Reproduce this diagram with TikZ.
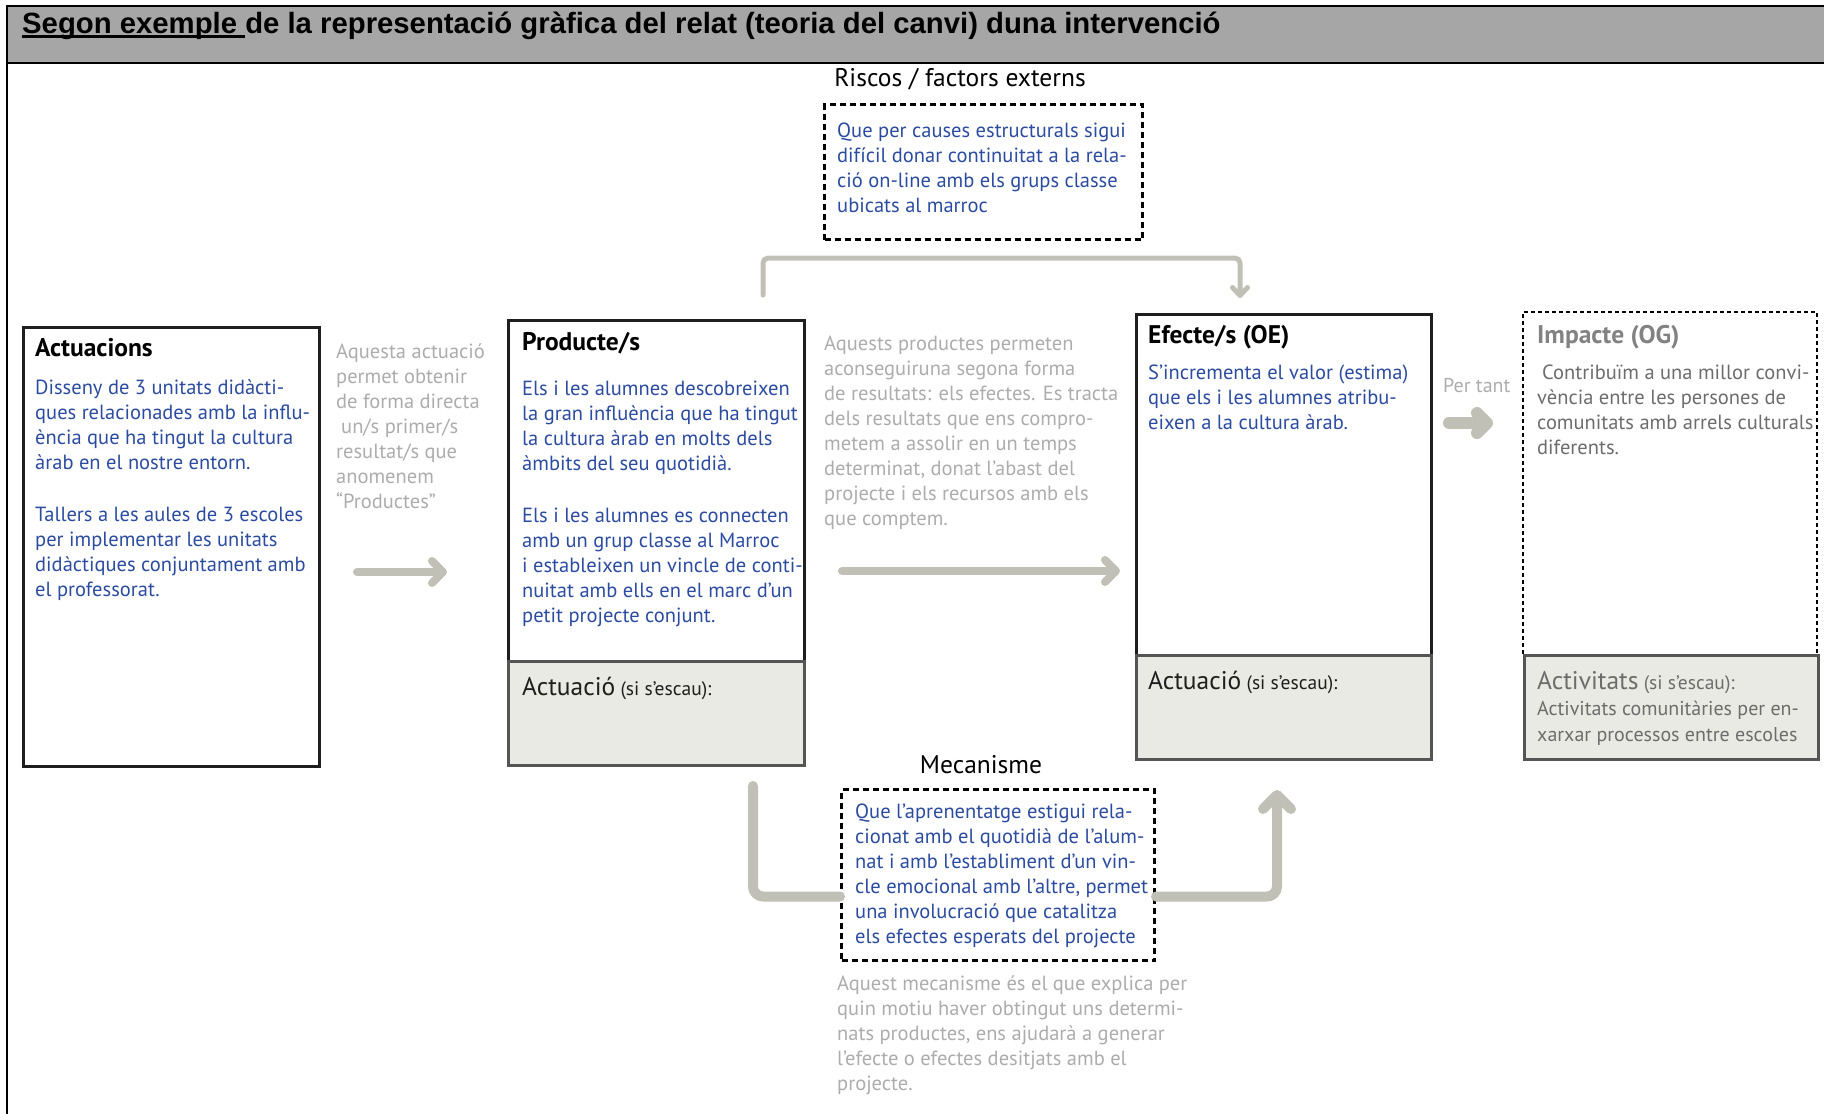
\documentclass[tikz,border=0pt]{standalone}
\usepackage{fontspec}
\setmainfont{PT Sans}
\newfontfamily\arialfont{Liberation Sans}
\usetikzlibrary{arrows.meta,positioning}

\definecolor{hdrgray}{HTML}{A6A6A6}
\definecolor{txtblue}{RGB}{43,75,160}
\definecolor{notegray}{RGB}{172,172,172}
\definecolor{impgray}{RGB}{108,108,108}
\definecolor{linkgray}{RGB}{192,192,182}
\definecolor{actfill}{RGB}{234,234,228}
\definecolor{boxline}{RGB}{30,30,30}
\definecolor{actline}{RGB}{85,85,85}

\newcommand\hdrline[1]{\setbox0\hbox{#1}\rlap{\rule[-4.5pt]{\wd0}{2.6pt}}\box0}
\newcommand\escau{{\fontsize{19.5}{24}\selectfont\ (si s’escau):}}

\tikzset{
  hdrtext/.style={anchor=base west, inner sep=0pt, font={\arialfont\fontsize{29.3}{34}\selectfont\bfseries}},
  bodytext/.style={anchor=north west, inner sep=0pt, align=left, font={\fontsize{20.5}{25}\selectfont}},
  bluetext/.style={bodytext, text=txtblue},
  notetext/.style={bodytext, text=notegray},
  titletext/.style={anchor=base west, inner sep=0pt, font={\fontsize{25.5}{30}\selectfont\bfseries}},
  headtext/.style={anchor=base, inner sep=0pt, font={\fontsize{25.5}{30}\selectfont}},
  acttext/.style={anchor=base west, inner sep=0pt, text=boxline, font={\fontsize{25.5}{30}\selectfont}},
  mainbox/.style={draw=boxline, line width=2.5pt, anchor=north west, inner sep=0pt},
  actbox/.style={draw=actline, fill=actfill, line width=2.5pt, anchor=north west, inner sep=0pt},
  dashbox/.style={draw=black, line width=3pt, dash pattern=on 6pt off 4pt, anchor=north west, inner sep=0pt},
  link/.style={draw=linkgray, line cap=round, line join=round},
  linkthin/.style={link, line width=5pt, rounded corners=5pt, -{Straight Barb[round,length=8pt,width=15pt]}},
  linkthick/.style={link, line width=10pt, rounded corners=10pt},
  linkarrow/.style={link, line width=8pt, -{Straight Barb[round,length=11pt,width=22pt]}}
}

\begin{document}
\begin{tikzpicture}[x=1pt, y=-1pt]
\useasboundingbox (0,0) rectangle (1824,1114);

% header band
\fill[hdrgray] (7,6) rectangle (1824,63);
\draw[line width=2.5pt] (1824,6) -- (7,6) -- (7,1114);
\draw[line width=2.5pt] (7,63) -- (1824,63);
\node[hdrtext] (hdr) at (22,33) {\hdrline{Segon exemple }de la representació gràfica del relat (teoria del canvi) duna intervenció};

% riscos
\node[headtext] (risktitle) at (960,86) {Riscos / factors externs};
\node[dashbox, minimum width=318pt, minimum height=135pt] (riskbox) at (823,103) {};
\node[bluetext] (risktext) at (837,123) {Que per causes estructurals sigui\\difícil donar continuitat a la rela-\\ció on-line amb els grups classe\\ubicats al marroc};

% actuacions
\node[mainbox, minimum width=296pt, minimum height=439pt] (actbox) at (22,326) {};
\node[titletext] (acttitle) at (35,356) {Actuacions};
\node[bluetext] (acttext) at (35,380) {Disseny de 3 unitats didàcti-\\ques relacionades amb la influ-\\ència que ha tingut la cultura\\àrab en el nostre entorn.\\[27pt]Tallers a les aules de 3 escoles\\per implementar les unitats\\didàctiques conjuntament amb\\el professorat.};
\node[notetext] (actnote) at (336,344) {Aquesta actuació\\permet obtenir\\de forma directa\\\hspace{5pt}un/s primer/s\\resultat/s que\\anomenem\\“Productes”};
\coordinate (arrAs) at (357,572);
\coordinate (arrAe) at (447,572);
\draw[linkarrow] (arrAs) -- (arrAe);

% productes
\node[mainbox, minimum width=296pt, minimum height=445pt] (prodbox) at (507,319) {};
\node[actbox, minimum width=296pt, minimum height=104pt] (prodact) at (507,660) {};
\node[titletext] (prodtitle) at (522,350) {Producte/s};
\node[bluetext] (prodtext) at (522,381) {Els i les alumnes descobreixen\\la gran influència que ha tingut\\la cultura àrab en molts dels\\àmbits del seu quotidià.\\[27pt]Els i les alumnes es connecten\\amb un grup classe al Marroc\\i estableixen un vincle de conti-\\nuitat amb ells en el marc d’un\\petit projecte conjunt.};
\node[acttext] (prodactlbl) at (522,695) {Actuació\escau};
\node[notetext] (prodnote) at (824,336) {Aquests productes permeten\\aconseguiruna segona forma\\de resultats: els efectes. Es tracta\\dels resultats que ens compro-\\metem a assolir en un temps\\determinat, donat l’abast del\\projecte i els recursos amb els\\que comptem.};
\coordinate (arrBs) at (842,571);
\coordinate (arrBe) at (1120,571);
\draw[linkarrow] (arrBs) -- (arrBe);

% riscos -> efectes
\coordinate (brkstart) at (763,295);
\coordinate (brktop) at (1000,258);
\coordinate (brkend) at (1240,298);
\draw[linkthin] (brkstart) |- (brktop) -| (brkend);

% efectes
\node[mainbox, minimum width=295pt, minimum height=445pt] (efbox) at (1135,313) {};
\node[actbox, minimum width=295pt, minimum height=104pt] (efact) at (1135,654) {};
\node[titletext] (eftitle) at (1148,343) {Efecte/s (OE)};
\node[bluetext] (eftext) at (1148,365) {S’incrementa el valor (estima)\\que els i les alumnes atribu-\\eixen a la cultura àrab.};
\node[acttext] (efactlbl) at (1148,689) {Actuació\escau};

% per tant
\node[notetext, anchor=base west, font={\fontsize{20}{24}\selectfont}] (pertant) at (1443,392) {Per tant};
\coordinate (arrCs) at (1449,423);
\coordinate (arrCe) at (1493,423);
\draw[link, line width=12pt, -{Straight Barb[round,length=10pt,width=20pt]}] (arrCs) -- (arrCe);

% impacte
\draw[line width=2.5pt, dash pattern=on 4pt off 3pt] (1523,654) -- (1523,312) -- (1817,312) -- (1817,654);
\node[actbox, minimum width=294pt, minimum height=104pt] (impact) at (1523,654) {};
\node[titletext, text=impgray!85] (imptitle) at (1537,343) {Impacte (OG)};
\node[bodytext, text=impgray] (imptext) at (1537,365) {\hspace{5pt}Contribuïm a una millor convi-\\vència entre les persones de\\comunitats amb arrels culturals\\diferents.};
\node[acttext, text=impgray] (impactlbl) at (1537,689) {Activitats\escau};
\node[bodytext, text=impgray, font={\fontsize{20}{26}\selectfont}] (impacttext) at (1537,701) {Activitats comunitàries per en-\\xarxar processos entre escoles};

% mecanisme
\node[headtext] (mectitle) at (981,773) {Mecanisme};
\node[dashbox, minimum width=313pt, minimum height=171pt] (mecbox) at (840,788) {};
\node[bluetext] (mectext) at (855,804) {Que l’aprenentatge estigui rela-\\cionat amb el quotidià de l’alum-\\nat i amb l’establiment d’un vin-\\cle emocional amb l’altre, permet\\una involucració que catalitza\\els efectes esperats del projecte};
\node[notetext] (mecnote) at (837,976) {Aquest mecanisme és el que explica per\\quin motiu haver obtingut uns determi-\\nats productes, ens ajudarà a generar\\l’efecte o efectes desitjats amb el\\projecte.};
\coordinate (mecin) at (753,786);
\coordinate (mecout) at (1277,790);
\draw[linkthick] (mecin) |- ([yshift=-21.5pt]mecbox.west);
\draw[linkthick, -{Straight Barb[round,length=14pt,width=28pt]}] ([yshift=-21.5pt]mecbox.east) -| (mecout);
\end{tikzpicture}
\end{document}
